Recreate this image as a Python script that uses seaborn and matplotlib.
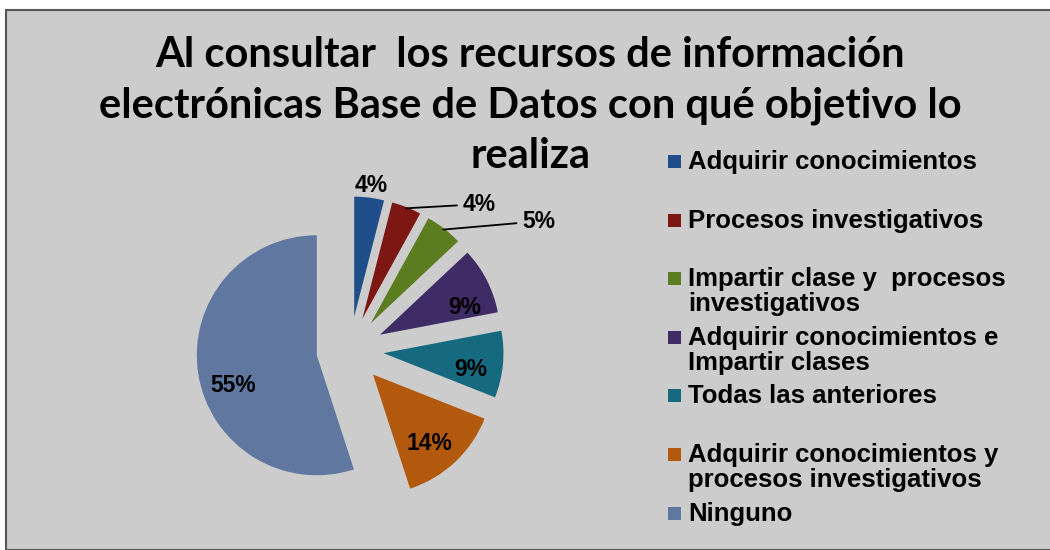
import numpy as np
import matplotlib
matplotlib.use('Agg')
import matplotlib.pyplot as plt
import seaborn as sns
from matplotlib.patches import Rectangle

sns.set_style('white')
plt.rcParams['font.family'] = ['Liberation Sans', 'DejaVu Sans']
plt.rcParams['text.color'] = 'black'

# data
categorias = [
    'Adquirir conocimientos',
    'Procesos investigativos',
    'Impartir clase y  procesos\ninvestigativos',
    'Adquirir conocimientos e\nImpartir clases',
    'Todas las anteriores',
    'Adquirir conocimientos y\nprocesos investigativos',
    'Ninguno',
]
porcentajes = [4, 4, 5, 9, 9, 14, 55]
colores = ['#1f4e8a', '#7d1714', '#5b7d1f', '#3f2b66', '#166a80', '#b3590e', '#60779f']

titulo = ['Al consultar  los recursos de información',
          'electrónicas Base de Datos con qué objetivo lo',
          'realiza']

bg = '#cccccc'
fig = plt.figure(figsize=(10.5, 5.5), dpi=100)
fig.patch.set_facecolor('white')

# grey chart area with dark border on top/left
fig.add_artist(Rectangle((6 / 1050, 0), 1.0, 1 - 10 / 550, transform=fig.transFigure,
                         facecolor=bg, edgecolor='#555555', lw=1.5, zorder=0))

# pie axes: 1 data unit = 120 px, centred near (350, 350) px
ax = fig.add_axes([110 / 1050, -40 / 550, 480 / 1050, 480 / 550])
ax.set_facecolor('none')

wedges, _ = ax.pie(porcentajes, colors=colores, startangle=90, counterclock=False,
                   explode=[0.28] * len(porcentajes), radius=1.0,
                   wedgeprops=dict(linewidth=0))
# pie() resets the limits, so fix the scale afterwards
ax.set_xlim(-2, 2)
ax.set_ylim(-2, 2)
ax.set_aspect('equal')
ax.axis('off')

# small angular nudges so the labels sit where Excel put them
giro = [0, 0, 0, -9, -5, -4, 11]
lab_font = dict(fontsize=16.5, fontweight='bold', color='black')
for i, (w, p) in enumerate(zip(wedges, porcentajes)):
    ang = np.deg2rad((w.theta1 + w.theta2) / 2 + giro[i])
    cx, cy = w.center
    r = w.r
    txt = f'{p}%'
    if i == 0:
        ax.text(cx + 1.1 * r * np.cos(ang), cy + 1.1 * r * np.sin(ang), txt,
                ha='center', va='center', **lab_font)
    elif i in (1, 2):
        ex, ey = cx + 0.99 * r * np.cos(ang), cy + 0.99 * r * np.sin(ang)
        off = (41, 3) if i == 1 else (57, 6)
        ax.annotate(txt, xy=(ex, ey), xytext=off, textcoords='offset points',
                    ha='left', va='center',
                    arrowprops=dict(arrowstyle='-', color='black', lw=1.3,
                                    shrinkA=2, shrinkB=0),
                    **lab_font)
    else:
        d = 0.74
        ax.text(cx + d * r * np.cos(ang), cy + d * r * np.sin(ang), txt,
                ha='center', va='center', **lab_font)

# title, one text per line
for j, linea in enumerate(titulo):
    fig.text(0.505, 1 - (55 + 50.5 * j) / 550, linea, ha='center', va='center',
             fontsize=30, fontweight='bold', color='black',
             family=['Lato', 'Liberation Sans', 'DejaVu Sans'])

# legend: fixed slot per entry, text top-aligned, marker on first line
x_mark = 668 / 1050
x_text = 688 / 1050
y0 = 150
paso = 58.6
for k, (c, lab) in enumerate(zip(colores, categorias)):
    top = y0 + k * paso
    fig.add_artist(Rectangle((x_mark, 1 - (top + 18) / 550), 13 / 1050, 13 / 550,
                             transform=fig.transFigure, facecolor=c, edgecolor='none'))
    fig.text(x_text, 1 - top / 550, lab, ha='left', va='top', fontsize=18.5,
             fontweight='bold', linespacing=1.05, color='black')

fig.savefig('out.png', dpi=100, facecolor=fig.get_facecolor())
